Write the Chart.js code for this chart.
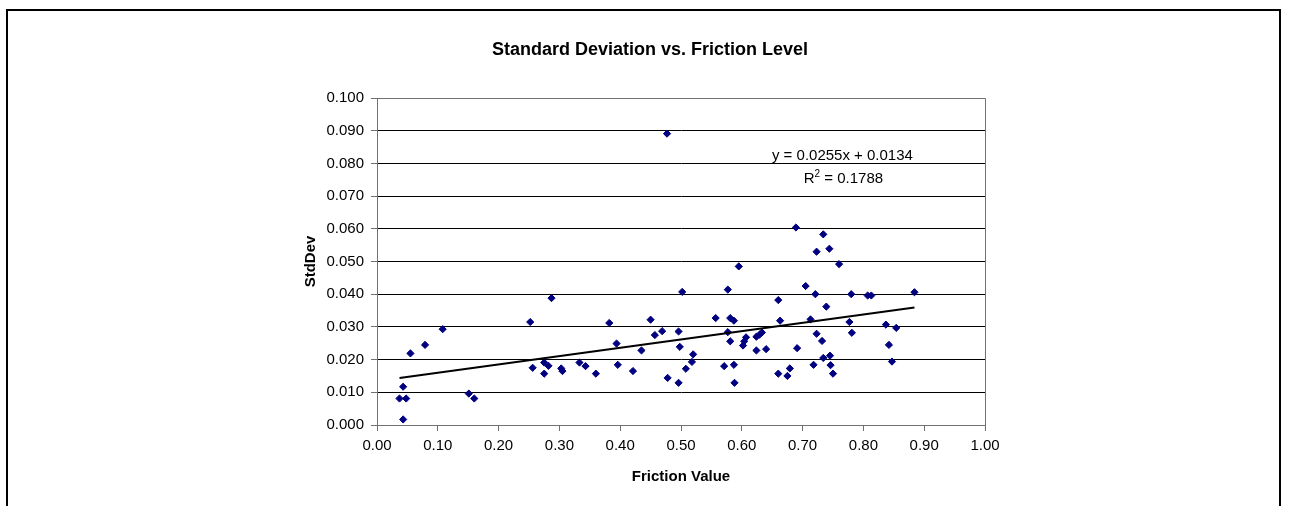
<!DOCTYPE html>
<html>
<head>
<meta charset="utf-8">
<script src="https://cdn.jsdelivr.net/npm/chart.js@4"></script>
<style>
  html, body { margin: 0; padding: 0; background: #ffffff; }
  #wrap { width: 1289px; height: 506px; position: relative; }
</style>
</head>
<body>
<div id="wrap"><canvas id="chart" width="1289" height="506"></canvas></div>
<script>
// Friction value of each sample
const friction = [
  0.037, 0.043, 0.048, 0.043, 0.055, 0.079, 0.108, 0.151, 0.160, 0.252,
  0.256, 0.287, 0.275, 0.282, 0.275, 0.303, 0.305, 0.333, 0.343, 0.360,
  0.382, 0.394, 0.396, 0.421, 0.435, 0.450, 0.457, 0.469, 0.477, 0.478,
  0.496, 0.498, 0.496, 0.502, 0.508, 0.518, 0.520, 0.557, 0.571, 0.577,
  0.577, 0.581, 0.587, 0.581, 0.587, 0.588, 0.595, 0.602, 0.604, 0.607,
  0.624, 0.624, 0.629, 0.633, 0.640, 0.660, 0.663, 0.660, 0.675, 0.679,
  0.689, 0.691, 0.705, 0.713, 0.718, 0.721, 0.723, 0.723, 0.732, 0.734,
  0.734, 0.744, 0.739, 0.745, 0.746, 0.750, 0.760, 0.780, 0.777, 0.781,
  0.807, 0.813, 0.837, 0.854, 0.842, 0.847, 0.884
];

// Standard deviation measured for each sample
const stdDev = [
  0.0081, 0.0117, 0.0081, 0.0017, 0.0219, 0.0245, 0.0293, 0.0096, 0.0081, 0.0315,
  0.0175, 0.0388, 0.0191, 0.0181, 0.0157, 0.0173, 0.0165, 0.0191, 0.0180, 0.0157,
  0.0312, 0.0249, 0.0184, 0.0165, 0.0228, 0.0322, 0.0275, 0.0287, 0.0891, 0.0144,
  0.0286, 0.0239, 0.0129, 0.0407, 0.0172, 0.0193, 0.0216, 0.0327, 0.0180, 0.0414,
  0.0284, 0.0327, 0.0319, 0.0256, 0.0184, 0.0129, 0.0485, 0.0243, 0.0256, 0.0268,
  0.0228, 0.0270, 0.0276, 0.0283, 0.0232, 0.0382, 0.0319, 0.0157, 0.0150, 0.0173,
  0.0604, 0.0235, 0.0425, 0.0323, 0.0184, 0.0400, 0.0530, 0.0279, 0.0257, 0.0583,
  0.0205, 0.0539, 0.0362, 0.0212, 0.0183, 0.0157, 0.0492, 0.0400, 0.0315, 0.0282,
  0.0396, 0.0396, 0.0307, 0.0297, 0.0245, 0.0194, 0.0406
];

// Linear trend fitted to the samples
const slope = 0.0255;
const intercept = 0.0134;
const rSquared = 0.1788;

// Axis ranges and tick steps
const xTickRange = [0, 1.0, 0.1];
const yTickRange = [0, 0.1, 0.01];

const chartTitle = 'Standard Deviation vs. Friction Level';
const xTitle = 'Friction Value';
const yTitle = 'StdDev';

const FONT = '"Liberation Sans", Arial, Helvetica, sans-serif';
const AXIS_GRAY = '#707070';

const points = friction.map((x, i) => ({ x: x, y: stdDev[i] }));
const xMin = Math.min(...friction);
const xMax = Math.max(...friction);
const trend = [
  { x: xMin, y: slope * xMin + intercept },
  { x: xMax, y: slope * xMax + intercept }
];

// Frame, plot-area border, titles and trend equation
const decorations = {
  id: 'decorations',
  beforeDraw(chart) {
    const ctx = chart.ctx;
    ctx.save();
    ctx.fillStyle = '#ffffff';
    ctx.fillRect(0, 0, chart.width, chart.height);
    ctx.restore();
  },
  afterDraw(chart) {
    const ctx = chart.ctx;
    const a = chart.chartArea;
    const xs = chart.scales.x, ys = chart.scales.y;
    ctx.save();

    // outer frame
    ctx.strokeStyle = '#000000';
    ctx.lineWidth = 2;
    ctx.strokeRect(7, 10, 1273, 620);

    // plot-area border on top and right
    ctx.strokeStyle = AXIS_GRAY;
    ctx.lineWidth = 1;
    ctx.beginPath();
    ctx.moveTo(Math.round(a.left) + 0.5, Math.round(a.top) + 0.5);
    ctx.lineTo(Math.round(a.right) + 0.5, Math.round(a.top) + 0.5);
    ctx.lineTo(Math.round(a.right) + 0.5, Math.round(a.bottom) + 0.5);
    ctx.stroke();

    ctx.fillStyle = '#000000';
    // chart title
    ctx.font = 'bold 18px ' + FONT;
    ctx.textAlign = 'center';
    ctx.textBaseline = 'alphabetic';
    ctx.fillText(chartTitle, 650, 55);

    // x axis title
    ctx.font = 'bold 15px ' + FONT;
    ctx.fillText(xTitle, (a.left + a.right) / 2, 481);

    // y axis title
    ctx.save();
    ctx.translate(315, (a.top + a.bottom) / 2);
    ctx.rotate(-Math.PI / 2);
    ctx.fillText(yTitle, 0, 0);
    ctx.restore();

    // trend equation
    ctx.font = '15px ' + FONT;
    const cx = xs.getPixelForValue(0.7655);
    const eq = 'y = ' + slope.toFixed(4) + 'x + ' + intercept.toFixed(4);
    ctx.fillText(eq, cx, ys.getPixelForValue(0.0810));

    const left = 'R', sup = '2', rest = ' = ' + rSquared.toFixed(4);
    ctx.font = '15px ' + FONT;
    const wL = ctx.measureText(left).width;
    const wR = ctx.measureText(rest).width;
    ctx.font = '10px ' + FONT;
    const wS = ctx.measureText(sup).width;
    const total = wL + wS + wR;
    const by = ys.getPixelForValue(0.0741);
    let px = cx + 1 - total / 2;
    ctx.textAlign = 'left';
    ctx.font = '15px ' + FONT;
    ctx.fillText(left, px, by);
    ctx.font = '10px ' + FONT;
    ctx.fillText(sup, px + wL, by - 6);
    ctx.font = '15px ' + FONT;
    ctx.fillText(rest, px + wL + wS, by);

    ctx.restore();
  }
};

new Chart(document.getElementById('chart'), {
  type: 'scatter',
  data: {
    datasets: [
      {
        label: 'StdDev',
        data: points,
        pointStyle: 'rectRot',
        pointRadius: 3.6,
        pointHoverRadius: 3.6,
        backgroundColor: '#000080',
        borderColor: '#000080',
        borderWidth: 1,
        order: 1
      },
      {
        label: 'Linear trend',
        type: 'line',
        data: trend,
        borderColor: '#000000',
        borderWidth: 2,
        pointRadius: 0,
        fill: false,
        order: 0
      }
    ]
  },
  plugins: [decorations],
  options: {
    responsive: false,
    animation: false,
    events: [],
    layout: { padding: { left: 300, right: 304, top: 98, bottom: 31 } },
    plugins: {
      legend: { display: false },
      title: { display: false },
      tooltip: { enabled: false }
    },
    scales: {
      x: {
        type: 'linear',
        position: 'bottom',
        min: xTickRange[0],
        max: xTickRange[1],
        afterFit(scale) { scale.height = 50; },
        ticks: {
          stepSize: xTickRange[2],
          padding: 6,
          color: '#000000',
          font: { family: FONT, size: 15 },
          maxRotation: 0,
          autoSkip: false,
          callback: (v) => Number(v).toFixed(2)
        },
        grid: {
          drawOnChartArea: false,
          drawTicks: true,
          tickLength: 6,
          tickColor: AXIS_GRAY,
          color: AXIS_GRAY
        },
        border: { display: true, color: AXIS_GRAY, width: 1 }
      },
      y: {
        type: 'linear',
        position: 'left',
        min: yTickRange[0],
        max: yTickRange[1],
        afterFit(scale) { scale.width = 77; },
        ticks: {
          stepSize: yTickRange[2],
          padding: 7,
          color: '#000000',
          font: { family: FONT, size: 15 },
          autoSkip: false,
          callback: (v) => Number(v).toFixed(3)
        },
        grid: {
          drawTicks: true,
          tickLength: 6,
          tickColor: AXIS_GRAY,
          color: (c) => (c.tick && (Math.abs(c.tick.value - yTickRange[1]) < 1e-9 || Math.abs(c.tick.value) < 1e-9)) ? AXIS_GRAY : '#000000',
          lineWidth: 1
        },
        border: { display: true, color: AXIS_GRAY, width: 1 }
      }
    }
  }
});
</script>
</body>
</html>
